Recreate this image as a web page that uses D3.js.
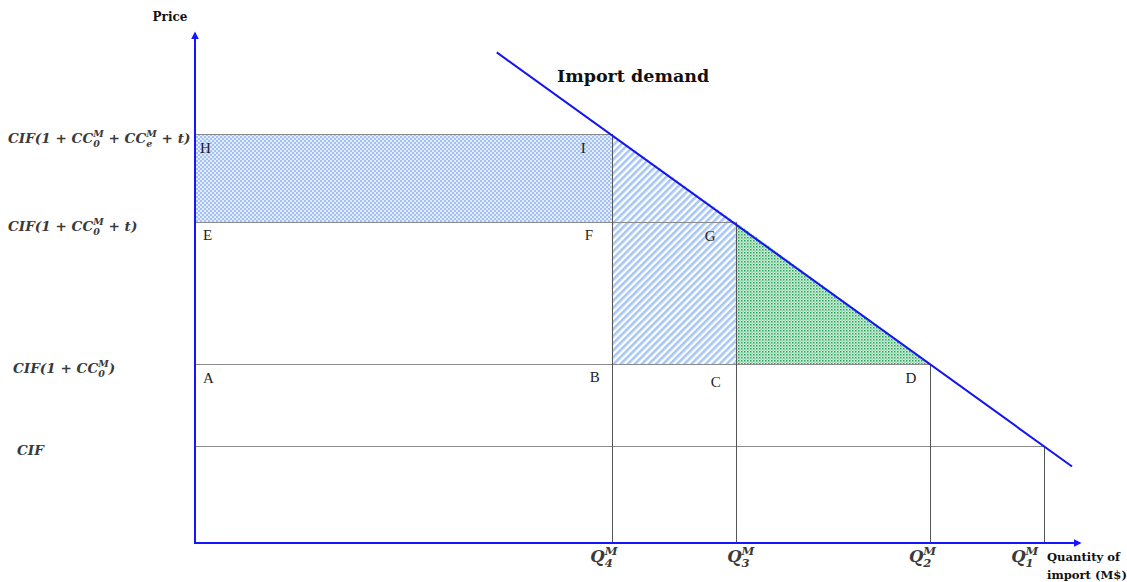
<!DOCTYPE html>
<html>
<head>
<meta charset="utf-8">
<script src="https://cdn.jsdelivr.net/npm/d3@7"></script>
<style>
  body { margin: 0; background: #fff; }
  svg { display: block; }
</style>
</head>
<body>
<div id="chart"></div>
<script>
// quantities on the x axis (Q4, Q3, Q2, Q1) and the matching price levels
let qNames = ['4', '3', '2', '1']
let qValues = [4.71, 6.11, 8.31, 9.59]
let priceValues = [8.02, 6.29, 3.51, 1.9]
// price labels, from top to bottom
let priceLabels = [
  [{ t: 'CIF(1 + CC' }, { sub: '0', sup: 'M' }, { t: ' + CC' }, { sub: 'e', sup: 'M' }, { t: ' + t)' }],
  [{ t: 'CIF(1 + CC' }, { sub: '0', sup: 'M' }, { t: ' + t)' }],
  [{ t: 'CIF(1 + CC' }, { sub: '0', sup: 'M' }, { t: ')' }],
  [{ t: 'CIF' }]
]
// import demand line end points
let demandQ = [3.41, 9.91]
let demandP = [9.62, 1.5]
// corner letters: [name, index of quantity (-1 = price axis), index of price]
let corners = [
  ['H', -1, 0], ['I', 0, 0],
  ['E', -1, 1], ['F', 0, 1], ['G', 1, 1],
  ['A', -1, 2], ['B', 0, 2], ['C', 1, 2], ['D', 2, 2]
]

let width = 1127
let height = 582
let serif = 'DejaVu Serif, serif'

let svg = d3
  .select('#chart')
  .append('svg')
  .attr('width', width)
  .attr('height', height)

let x = d3.scaleLinear().domain([0, 10]).range([195, 1080])
let y = d3.scaleLinear().domain([0, 10]).range([543, 33])

let defs = svg.append('defs')

// checker pattern
let checker = defs
  .append('pattern')
  .attr('id', 'checker')
  .attr('patternUnits', 'userSpaceOnUse')
  .attr('width', 4)
  .attr('height', 4)
checker.append('rect').attr('width', 4).attr('height', 4).attr('fill', '#e3ecfc')
checker.append('rect').attr('width', 2).attr('height', 2).attr('fill', '#a3c2f3')
checker.append('rect').attr('x', 2).attr('y', 2).attr('width', 2).attr('height', 2).attr('fill', '#a3c2f3')

// diagonal hatch
let hatch = defs
  .append('pattern')
  .attr('id', 'hatch')
  .attr('patternUnits', 'userSpaceOnUse')
  .attr('width', 5)
  .attr('height', 5)
  .attr('patternTransform', 'rotate(45)')
hatch.append('rect').attr('width', 5).attr('height', 5).attr('fill', '#ffffff')
hatch.append('rect').attr('width', 2.6).attr('height', 5).attr('fill', '#a6c6f4')

// green dots
let dots = defs
  .append('pattern')
  .attr('id', 'dots')
  .attr('patternUnits', 'userSpaceOnUse')
  .attr('width', 3)
  .attr('height', 3)
dots.append('rect').attr('width', 3).attr('height', 3).attr('fill', '#d8f0df')
dots.append('rect').attr('width', 1.5).attr('height', 1.5).attr('fill', '#1aa657')
dots.append('rect').attr('x', 1.5).attr('y', 1.5).attr('width', 1.2).attr('height', 1.2).attr('fill', '#62c384')

let arrow = defs
  .append('marker')
  .attr('id', 'arrow')
  .attr('viewBox', '0 0 10 10')
  .attr('refX', 8)
  .attr('refY', 5)
  .attr('markerWidth', 4)
  .attr('markerHeight', 4)
  .attr('orient', 'auto')
arrow.append('path').attr('d', 'M0,0L10,5L0,10z').attr('fill', '#1515ff')

let line = d3
  .line()
  .x(d => x(d[0]))
  .y(d => y(d[1]))

let q4 = qValues[0]
let q3 = qValues[1]
let q2 = qValues[2]
let pH = priceValues[0]
let pE = priceValues[1]
let pA = priceValues[2]

// shaded areas
svg
  .append('path')
  .attr('d', line([[0, pH], [q4, pH], [q4, pE], [0, pE]]) + 'Z')
  .attr('fill', 'url(#checker)')
svg
  .append('path')
  .attr('d', line([[q4, pH], [q3, pE], [q3, pA], [q4, pA]]) + 'Z')
  .attr('fill', 'url(#hatch)')
svg
  .append('path')
  .attr('d', line([[q3, pE], [q2, pA], [q3, pA]]) + 'Z')
  .attr('fill', 'url(#dots)')

// guide lines
svg
  .selectAll('.h-line')
  .data(priceValues)
  .enter()
  .append('line')
  .attr('class', 'h-line')
  .attr('x1', x(0))
  .attr('x2', (d, i) => x(qValues[i]))
  .attr('y1', d => Math.round(y(d)) + 0.5)
  .attr('y2', d => Math.round(y(d)) + 0.5)
  .attr('stroke', '#8a8a8a')
  .attr('stroke-width', 1)

svg
  .selectAll('.v-line')
  .data(qValues)
  .enter()
  .append('line')
  .attr('class', 'v-line')
  .attr('x1', d => Math.round(x(d)) + 0.5)
  .attr('x2', d => Math.round(x(d)) + 0.5)
  .attr('y1', (d, i) => y(priceValues[i]))
  .attr('y2', y(0))
  .attr('stroke', '#555555')
  .attr('stroke-width', 1)

// import demand
svg
  .append('line')
  .attr('x1', x(demandQ[0]))
  .attr('y1', y(demandP[0]))
  .attr('x2', x(demandQ[1]))
  .attr('y2', y(demandP[1]))
  .attr('stroke', '#1414f0')
  .attr('stroke-width', 2)

svg
  .append('text')
  .attr('x', 557)
  .attr('y', 82)
  .attr('font-family', serif)
  .attr('font-weight', 'bold')
  .attr('font-size', 17.5)
  .attr('fill', '#111')
  .text('Import demand')

// axes
svg
  .append('line')
  .attr('x1', x(0))
  .attr('y1', y(0))
  .attr('x2', x(0))
  .attr('y2', y(10))
  .attr('stroke', '#1515ff')
  .attr('stroke-width', 2)
  .attr('marker-end', 'url(#arrow)')
svg
  .append('line')
  .attr('x1', x(0) - 1)
  .attr('y1', y(0))
  .attr('x2', x(10))
  .attr('y2', y(0))
  .attr('stroke', '#1515ff')
  .attr('stroke-width', 2)
  .attr('marker-end', 'url(#arrow)')

svg
  .append('text')
  .attr('x', 170)
  .attr('y', 21)
  .attr('text-anchor', 'middle')
  .attr('font-family', serif)
  .attr('font-weight', 'bold')
  .attr('font-size', 12)
  .attr('fill', '#111')
  .text('Price')

let qTitle = svg
  .append('text')
  .attr('font-family', serif)
  .attr('font-weight', 'bold')
  .attr('font-size', 11.6)
  .attr('fill', '#111')
qTitle.append('tspan').attr('x', 1047).attr('y', 561).text('Quantity of')
qTitle.append('tspan').attr('x', 1047).attr('y', 579).text('import (M$)')

// write a label with stacked sub/superscripts
function mathLabel(sel, parts, size) {
  let dx = 0
  let dy = 0
  parts.forEach(p => {
    if (p.t) {
      let t = sel.append('tspan').text(p.t)
      if (dx) t.attr('dx', dx)
      if (dy) t.attr('dy', dy)
      dx = 0
      dy = 0
    } else {
      let sub = sel
        .append('tspan')
        .attr('font-size', size * 0.7)
        .attr('dy', size * 0.3)
        .text(p.sub)
      let w = sub.node().getComputedTextLength()
      let sup = sel
        .append('tspan')
        .attr('font-size', size * 0.7)
        .attr('dx', -w)
        .attr('dy', -size * 0.72)
        .text(p.sup)
      let w2 = sup.node().getComputedTextLength()
      // the next part goes back to the baseline, after the wider of the two
      dx = Math.max(0, w - w2)
      dy = size * 0.42
    }
  })
}

// price axis labels
let yAxis = d3
  .axisLeft(y)
  .tickValues(priceValues)
  .tickSize(0)
  .tickFormat(d => '')
let yG = svg
  .append('g')
  .attr('transform', 'translate(' + x(0) + ',0)')
  .call(yAxis)
yG.select('.domain').remove()
let yLeft = [8, 8, 13, 17]
yG.selectAll('.tick text')
  .attr('x', (d, i) => yLeft[i] - x(0))
  .attr('dy', '0.62em')
  .attr('text-anchor', 'start')
  .attr('font-family', serif)
  .attr('font-style', 'italic')
  .attr('font-weight', 'bold')
  .attr('font-size', 13.6)
  .attr('fill', '#3a3a3a')
  .each(function(d, i) {
    mathLabel(d3.select(this), priceLabels[i], 13.6)
  })

// quantity axis labels
let xAxis = d3
  .axisBottom(x)
  .tickValues(qValues)
  .tickSize(0)
  .tickFormat(d => '')
let xG = svg
  .append('g')
  .attr('transform', 'translate(0,' + y(0) + ')')
  .call(xAxis)
xG.select('.domain').remove()
let qShift = [-22, -9, -22, -33]
xG.selectAll('.tick text')
  .attr('x', (d, i) => qShift[i])
  .attr('y', 19)
  .attr('dy', 0)
  .attr('text-anchor', 'start')
  .attr('font-family', serif)
  .attr('font-style', 'italic')
  .attr('font-weight', 'bold')
  .attr('font-size', 16.5)
  .attr('fill', '#3a3a3a')
  .each(function(d, i) {
    mathLabel(d3.select(this), [{ t: 'Q' }, { sub: qNames[i], sup: 'M' }], 16.5)
  })

// corner letters
let cornerShift = {
  H: [5, 19], I: [-31, 19], E: [8, 18], F: [-27, 18], G: [-31, 19],
  A: [8, 19], B: [-22, 18], C: [-25, 23], D: [-25, 19]
}
svg
  .selectAll('.corner')
  .data(corners)
  .enter()
  .append('text')
  .attr('class', 'corner')
  .attr('x', d => (d[1] < 0 ? x(0) : x(qValues[d[1]])) + cornerShift[d[0]][0])
  .attr('y', d => y(priceValues[d[2]]) + cornerShift[d[0]][1])
  .attr('font-family', 'Liberation Serif, serif')
  .attr('font-size', 15)
  .attr('fill', '#222')
  .text(d => d[0])
</script>
</body>
</html>
